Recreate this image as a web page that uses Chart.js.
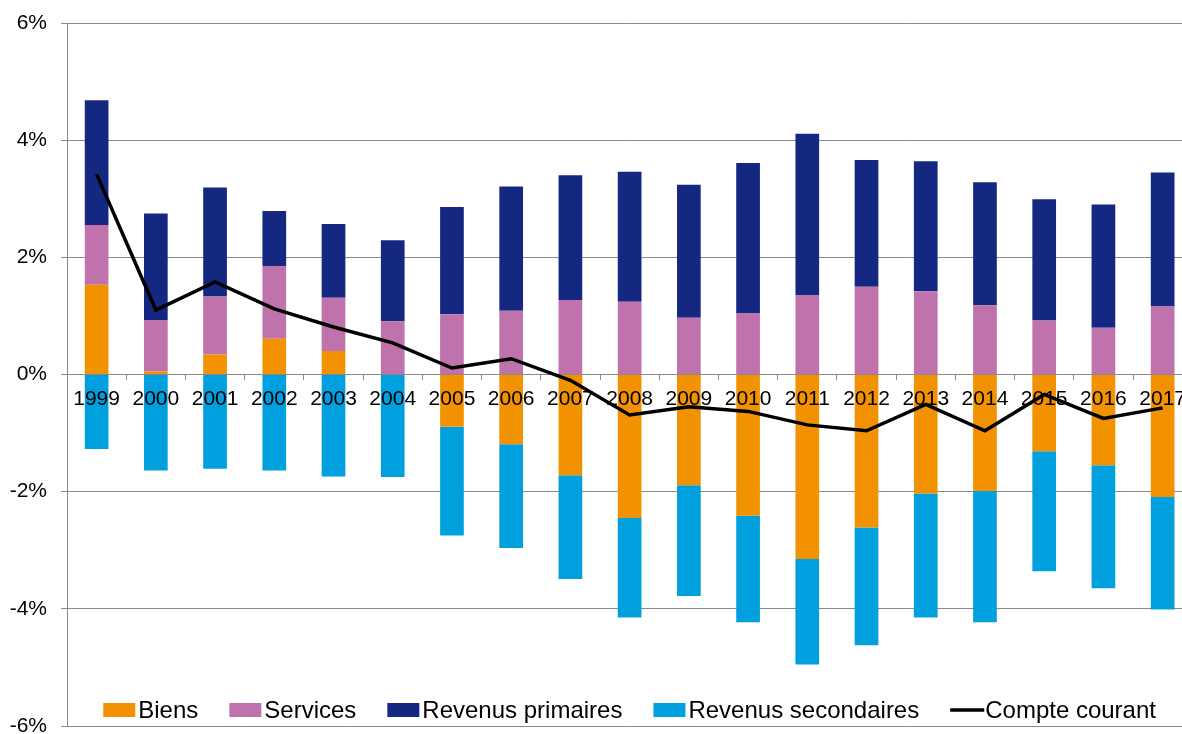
<!DOCTYPE html>
<html lang="fr">
<head>
<meta charset="utf-8">
<script src="https://cdn.jsdelivr.net/npm/chart.js@4.4.1/dist/chart.umd.min.js"></script>
<style>
  html, body { margin: 0; padding: 0; background: #ffffff; overflow: hidden; }
  #graph { display: block; }
</style>
</head>
<body>
<canvas id="graph" width="1193" height="734"></canvas>
<script>
// Données (% du PIB)
const annees = ['1999', '2000', '2001', '2002', '2003', '2004', '2005', '2006', '2007', '2008',
  '2009', '2010', '2011', '2012', '2013', '2014', '2015', '2016', '2017'];
const biens = [1.53, 0.05, 0.34, 0.61, 0.40, 0.00, -0.89, -1.19, -1.72, -2.45,
  -1.89, -2.41, -3.15, -2.61, -2.03, -1.99, -1.31, -1.55, -2.09];
const services = [1.02, 0.88, 0.99, 1.24, 0.91, 0.91, 1.03, 1.09, 1.27, 1.24,
  0.97, 1.04, 1.35, 1.50, 1.42, 1.18, 0.92, 0.80, 1.16];
const revenusPrimaires = [2.13, 1.82, 1.86, 0.94, 1.26, 1.38, 1.83, 2.12, 2.13, 2.22,
  2.27, 2.57, 2.76, 2.16, 2.22, 2.10, 2.07, 2.10, 2.29];
const revenusSecondaires = [-1.27, -1.64, -1.61, -1.64, -1.74, -1.75, -1.86, -1.77, -1.77, -1.70,
  -1.89, -1.82, -1.80, -2.01, -2.12, -2.24, -2.05, -2.10, -1.92];
const compteCourant = [3.42, 1.10, 1.58, 1.12, 0.81, 0.54, 0.11, 0.27, -0.10, -0.69,
  -0.55, -0.63, -0.86, -0.96, -0.51, -0.96, -0.34, -0.75, -0.57];
const ticksY = [-6, -4, -2, 0, 2, 4, 6];

const police = '"Liberation Sans", Arial, sans-serif';
const gris = '#898989';

// Légende dessinée à la main, dans la zone du graphique (comme l'original)
const legendePlugin = {
  id: 'legende',
  afterDraw(chart) {
    const ctx = chart.ctx;
    const area = chart.chartArea;
    const y = 710;
    const boite = 32, gapTexte = 3, gapItem = 31;
    ctx.save();
    ctx.font = '24px ' + police;
    ctx.textBaseline = 'middle';
    ctx.fillStyle = '#000';
    const items = chart.data.datasets.map(ds => ({
      label: ds.label,
      couleur: ds.type === 'line' ? ds.borderColor : ds.backgroundColor,
      ligne: ds.type === 'line',
      w: ctx.measureText(ds.label).width
    }));
    let total = 0;
    items.forEach((it, i) => {
      total += boite + gapTexte + it.w + (i < items.length - 1 ? gapItem : 0);
    });
    let x = (area.left + area.right) / 2 - total / 2;
    items.forEach(it => {
      if (it.ligne) {
        ctx.strokeStyle = it.couleur;
        ctx.lineWidth = 3.5;
        ctx.beginPath();
        ctx.moveTo(x, y);
        ctx.lineTo(x + boite + 2, y);
        ctx.stroke();
      } else {
        ctx.fillStyle = it.couleur;
        ctx.fillRect(x, y - 7, boite, 14);
      }
      ctx.fillStyle = '#000';
      ctx.fillText(it.label, x + boite + gapTexte, y + 1);
      x += boite + gapTexte + it.w + gapItem;
    });
    ctx.restore();
  }
};

const ctx = document.getElementById('graph').getContext('2d');
new Chart(ctx, {
  data: {
    labels: annees,
    datasets: [
      { type: 'bar', label: 'Biens', data: biens, backgroundColor: '#F39200', stack: 'solde' },
      { type: 'bar', label: 'Services', data: services, backgroundColor: '#BF72AB', stack: 'solde' },
      { type: 'bar', label: 'Revenus primaires', data: revenusPrimaires, backgroundColor: '#152881', stack: 'solde' },
      { type: 'bar', label: 'Revenus secondaires', data: revenusSecondaires, backgroundColor: '#00A0DF', stack: 'solde' },
      {
        type: 'line', label: 'Compte courant', data: compteCourant, stack: 'cc', order: -1,
        borderColor: '#000000', borderWidth: 3.5, pointRadius: 0, tension: 0, fill: false
      }
    ]
  },
  options: {
    responsive: false,
    animation: false,
    layout: { padding: { top: 23, bottom: 8, left: 0, right: 0 } },
    datasets: {
      bar: { categoryPercentage: 1, barPercentage: 0.4 }
    },
    scales: {
      x: {
        type: 'category',
        stacked: true,
        position: { y: 0 },
        grid: { display: true, drawOnChartArea: false, drawTicks: true, tickLength: 5, color: gris, offset: true },
        border: { display: true, color: gris, width: 1 },
        ticks: { font: { family: police, size: 21 }, color: '#000', padding: 7, maxRotation: 0, autoSkip: false, z: 1 }
      },
      y: {
        stacked: true,
        min: -6,
        max: 6,
        afterBuildTicks: s => { s.ticks = ticksY.map(v => ({ value: v })); },
        afterFit: s => { s.width = 67; s.paddingTop = 0; s.paddingBottom = 0; },
        grid: { color: gris, lineWidth: 1, drawTicks: true, tickLength: 6 },
        border: { display: true, color: gris, width: 1 },
        ticks: {
          font: { family: police, size: 21 },
          color: '#000',
          padding: 14,
          callback: v => v + '%'
        }
      }
    },
    plugins: {
      legend: { display: false },
      tooltip: { enabled: false }
    }
  },
  plugins: [legendePlugin]
});
</script>
</body>
</html>
